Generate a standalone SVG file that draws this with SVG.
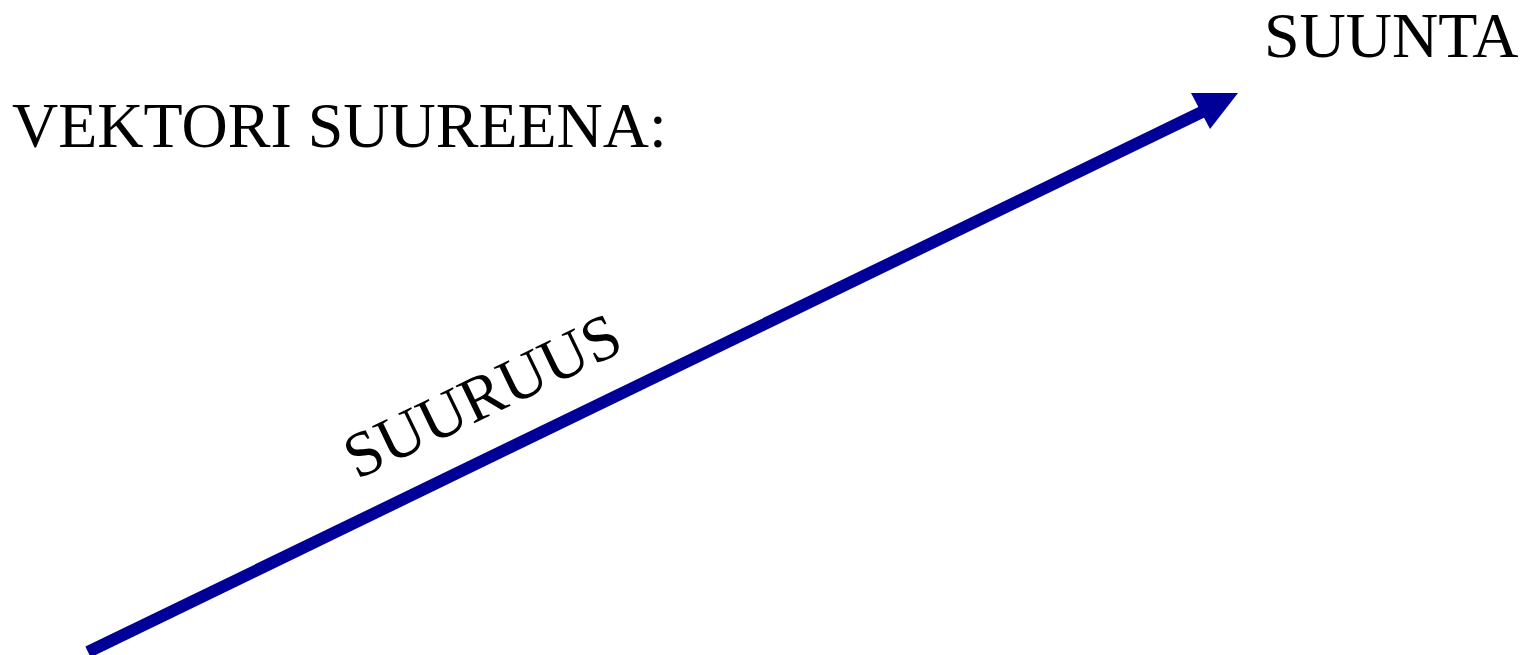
<svg xmlns="http://www.w3.org/2000/svg" width="1532" height="655" viewBox="0 0 1532 655">
<style>
.t{font-family:"Liberation Serif","Times New Roman",serif;font-size:64px;fill:#000}
.shaft{stroke:#000099;stroke-width:12;fill:none}
.head{fill:#000099}
</style>
<rect width="1532" height="655" fill="#fff"/>
<g id="title"><text class="t" x="12" y="147">VEKTORI SUUREENA:</text></g>
<g id="suunta"><text class="t" x="1264" y="57">SUUNTA</text></g>
<g id="suuruus"><text class="t" transform="translate(357,480) rotate(-25.8)">SUURUUS</text></g>
<g id="connectors">
<line class="shaft" x1="88" y1="652" x2="1204" y2="111"/>
<polygon class="head" points="1191,93 1238,93 1210,129"/>
</g>
</svg>
